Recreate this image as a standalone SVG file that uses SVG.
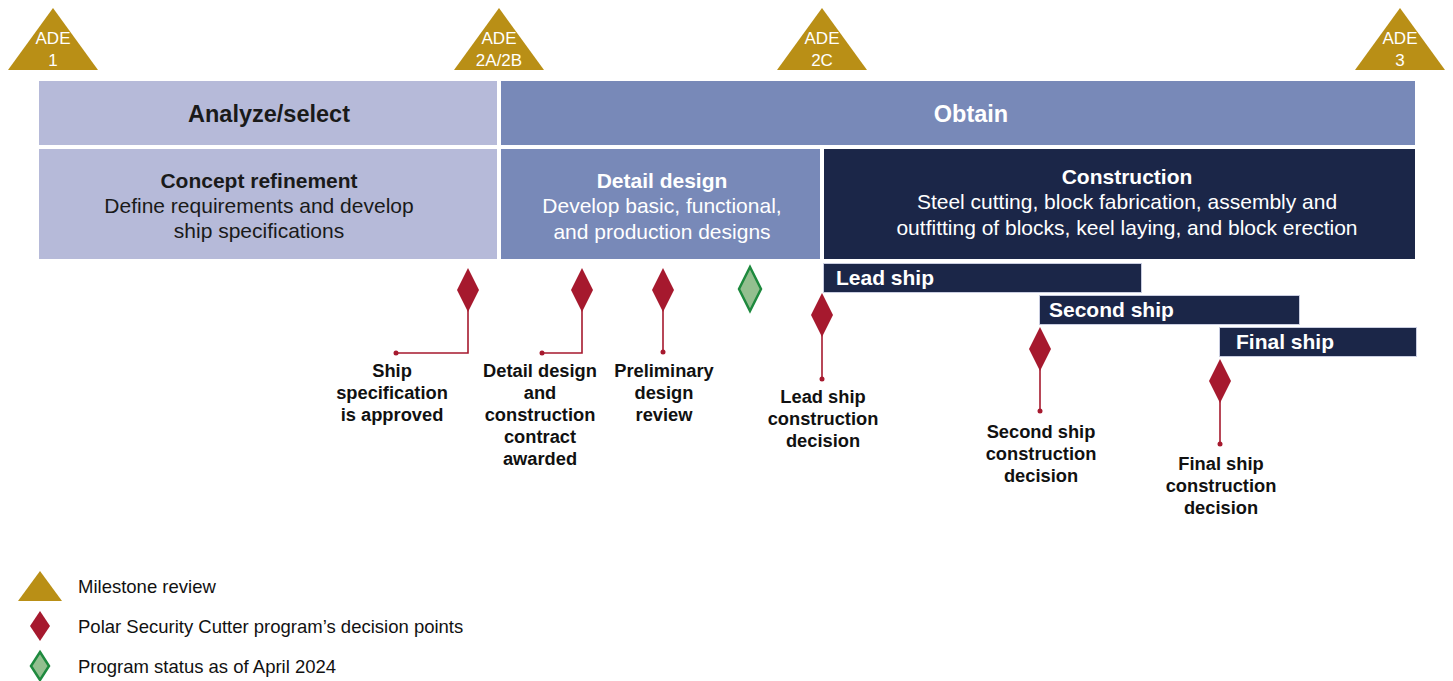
<svg xmlns="http://www.w3.org/2000/svg" width="1453" height="681" viewBox="0 0 1453 681">
<style>
text{font-family:"Liberation Sans",Arial,sans-serif}
.tri{fill:#b98f16}
.tt{fill:#fff;font-size:17px;text-anchor:middle}
.light{fill:#b6bad9}
.mid{fill:#7889b8}
.dark{fill:#1b2648}
.ship{fill:#1b2648;stroke:#c9cde0;stroke-width:1}
.h{font-size:23.5px;font-weight:bold;text-anchor:middle}
.b{font-size:21px;text-anchor:middle}
.bb{font-size:21px;font-weight:bold;text-anchor:middle}
.w{fill:#fff}
.k{fill:#1a1a1a}
.sl{font-size:21px;font-weight:bold;fill:#fff}
.red{fill:#a6192e}
.grn{fill:#93bf8f;stroke:#1e8a3e;stroke-width:2.5}
.ln{stroke:#a6192e;stroke-width:1.6;fill:none}
.lab{font-size:18.3px;font-weight:bold;text-anchor:middle;fill:#111}
.leg{font-size:18.5px;fill:#111}
</style>
<g id="ade1"><polygon class="tri" points="53,8 98,70 8,70"/><text class="tt" x="53" y="44">ADE</text><text class="tt" x="53" y="66">1</text></g>
<g id="ade2ab"><polygon class="tri" points="499,8 544,70 454,70"/><text class="tt" x="499" y="44">ADE</text><text class="tt" x="499" y="66">2A/2B</text></g>
<g id="ade2c"><polygon class="tri" points="822,8 867,70 777,70"/><text class="tt" x="822" y="44">ADE</text><text class="tt" x="822" y="66">2C</text></g>
<g id="ade3"><polygon class="tri" points="1400,8 1445,70 1355,70"/><text class="tt" x="1400" y="44">ADE</text><text class="tt" x="1400" y="66">3</text></g>

<g id="analyze"><rect class="light" x="39" y="81" width="458" height="64"/><text class="h k" x="269" y="122">Analyze/select</text></g>
<g id="obtain"><rect class="mid" x="501" y="81" width="914" height="64"/><text class="h w" x="971" y="122">Obtain</text></g>

<g id="concept"><rect class="light" x="39" y="149" width="458" height="110"/>
<text class="bb k" x="259" y="188">Concept refinement</text>
<text class="b k" x="259" y="213">Define requirements and develop</text>
<text class="b k" x="259" y="238">ship specifications</text></g>
<g id="detail"><rect class="mid" x="501" y="149" width="319" height="110"/>
<text class="bb w" x="662" y="188">Detail design</text>
<text class="b w" x="662" y="213">Develop basic, functional,</text>
<text class="b w" x="662" y="239">and production designs</text></g>
<g id="construction"><rect class="dark" x="824" y="149" width="591" height="110"/>
<text class="bb w" x="1127" y="184">Construction</text>
<text class="b w" x="1127" y="209">Steel cutting, block fabrication, assembly and</text>
<text class="b w" x="1127" y="235">outfitting of blocks, keel laying, and block erection</text></g>

<g id="leadship"><rect class="ship" x="823.5" y="263.5" width="318" height="29"/><text class="sl" x="836" y="285">Lead ship</text></g>
<g id="secondship"><rect class="ship" x="1039.5" y="295.5" width="260" height="29"/><text class="sl" x="1049" y="317">Second ship</text></g>
<g id="finalship"><rect class="ship" x="1219.5" y="327.5" width="197" height="29"/><text class="sl" x="1236" y="349">Final ship</text></g>

<g id="connectors">
<polyline class="ln" points="468,310 468,353 396,353"/><circle class="red" cx="396" cy="353" r="2.5"/>
<polyline class="ln" points="582,310 582,353 542,353"/><circle class="red" cx="542" cy="353" r="2.5"/>
<polyline class="ln" points="663,310 663,352"/><circle class="red" cx="663" cy="352" r="2.5"/>
<polyline class="ln" points="822,335 822,379"/><circle class="red" cx="822" cy="379" r="2.5"/>
<polyline class="ln" points="1040,369 1040,411"/><circle class="red" cx="1040" cy="411" r="2.5"/>
<polyline class="ln" points="1220,401 1220,444"/><circle class="red" cx="1220" cy="444" r="2.5"/>
</g>

<g id="d1"><polygon class="red" points="468,268 479,290 468,312 457,290"/>
<text class="lab" x="392" y="377">Ship</text><text class="lab" x="392" y="399">specification</text><text class="lab" x="392" y="421">is approved</text></g>
<g id="d2"><polygon class="red" points="582,268 593,290 582,312 571,290"/>
<text class="lab" x="540" y="377">Detail design</text><text class="lab" x="540" y="399">and</text><text class="lab" x="540" y="421">construction</text><text class="lab" x="540" y="443">contract</text><text class="lab" x="540" y="465">awarded</text></g>
<g id="d3"><polygon class="red" points="663,268 674,290 663,312 652,290"/>
<text class="lab" x="664" y="377">Preliminary</text><text class="lab" x="664" y="399">design</text><text class="lab" x="664" y="421">review</text></g>
<g id="status"><polygon class="grn" points="750,267 761,289 750,311 739,289"/></g>
<g id="d4"><polygon class="red" points="822,293 833,315 822,337 811,315"/>
<text class="lab" x="823" y="403">Lead ship</text><text class="lab" x="823" y="425">construction</text><text class="lab" x="823" y="447">decision</text></g>
<g id="d5"><polygon class="red" points="1040,327 1051,349 1040,371 1029,349"/>
<text class="lab" x="1041" y="438">Second ship</text><text class="lab" x="1041" y="460">construction</text><text class="lab" x="1041" y="482">decision</text></g>
<g id="d6"><polygon class="red" points="1220,359 1231,381 1220,403 1209,381"/>
<text class="lab" x="1221" y="470">Final ship</text><text class="lab" x="1221" y="492">construction</text><text class="lab" x="1221" y="514">decision</text></g>

<g id="legend">
<polygon class="tri" points="40,571 62,601 18,601"/><text class="leg" x="78" y="593">Milestone review</text>
<polygon class="red" points="40,611 50,626 40,641 30,626"/><text class="leg" x="78" y="633">Polar Security Cutter program’s decision points</text>
<polygon class="grn" points="40,652 49,666 40,680 31,666"/><text class="leg" x="78" y="673">Program status as of April 2024</text>
</g>
</svg>
